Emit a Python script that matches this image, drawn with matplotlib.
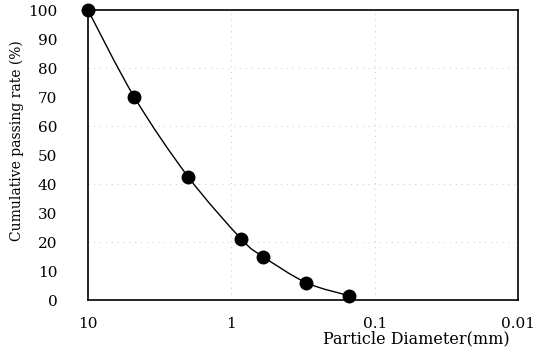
import numpy as np
import matplotlib
matplotlib.use("Agg")
import matplotlib.pyplot as plt
from matplotlib.path import Path
from matplotlib.patches import PathPatch

# sieve sizes (mm) and cumulative passing (%)
diameter = [10, 4.75, 2.0, 0.85, 0.6, 0.3, 0.15]
passing = [100, 70, 42.5, 21, 15, 6, 1.5]

y_ticks = [0, 10, 20, 30, 40, 50, 60, 70, 80, 90, 100]
x_ticks = [10, 1, 0.1, 0.01]
x_labels = ["10", "1", "0.1", "0.01"]

plt.rcParams['font.family'] = ['DejaVu Serif']

fig = plt.figure(figsize=(5.5, 3.49), dpi=100)
ax = fig.add_axes([0.16, 0.14, 0.782, 0.831])
ax.set_xscale('log')
ax.set_xlim(10, 0.01)
ax.set_ylim(0, 100)

# smoothed line (catmull-rom in log space, like excel smooth line)
lx = np.log10(diameter)
ly = np.array(passing, dtype=float)
verts = [(diameter[0], passing[0])]
codes = [Path.MOVETO]
n = len(lx)
for i in range(n - 1):
    p0 = (lx[max(i - 1, 0)], ly[max(i - 1, 0)])
    p1 = (lx[i], ly[i])
    p2 = (lx[i + 1], ly[i + 1])
    p3 = (lx[min(i + 2, n - 1)], ly[min(i + 2, n - 1)])
    c1 = (p1[0] + (p2[0] - p0[0]) / 6, p1[1] + (p2[1] - p0[1]) / 6)
    c2 = (p2[0] - (p3[0] - p1[0]) / 6, p2[1] - (p3[1] - p1[1]) / 6)
    for c in (c1, c2, p2):
        verts.append((10 ** c[0], c[1]))
        codes.append(Path.CURVE4)
ax.add_patch(PathPatch(Path(verts, codes), fill=False, lw=1.0, ec='black'))

ax.plot(diameter, passing, 'o', color='black', ms=9, clip_on=False, zorder=3)

ax.set_yticks(y_ticks)
ax.set_xticks(x_ticks)
ax.set_xticklabels(x_labels)
ax.minorticks_off()
ax.tick_params(length=0, labelsize=11)
ax.tick_params(axis='y', pad=22)
ax.tick_params(axis='x', pad=12)

# faint grid only every 20 % and at the decades
for g in [20, 40, 60, 80]:
    ax.axhline(g, color='#c8c8c8', lw=0.7, ls=(0, (1, 5)), zorder=0)
for g in [1, 0.1]:
    ax.axvline(g, color='#c8c8c8', lw=0.7, ls=(0, (1, 5)), zorder=0)

for s in ax.spines.values():
    s.set_linewidth(1.2)

ax.set_ylabel("Cumulative passing rate (%)", fontsize=10)
ax.yaxis.set_label_coords(-0.148, 0.55)
ax.set_xlabel("Particle Diameter(mm)", fontsize=11.5)
ax.xaxis.set_label_coords(0.763, -0.105)

fig.savefig("out.png", dpi=100)
